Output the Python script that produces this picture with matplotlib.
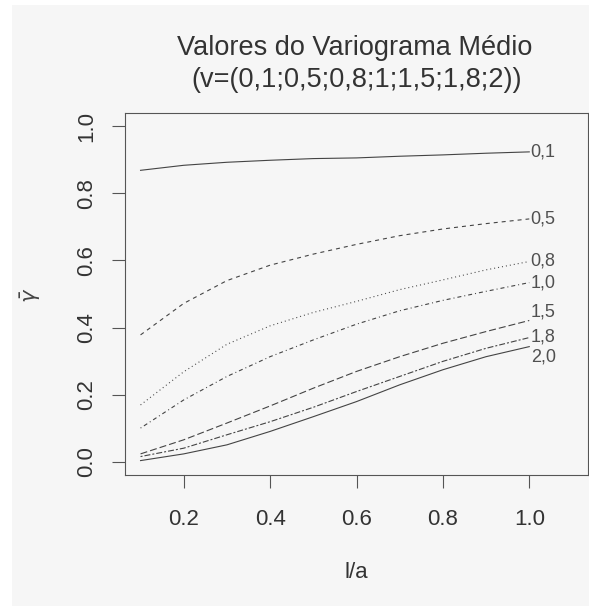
import matplotlib.pyplot as plt
from matplotlib.patches import Rectangle

plt.rcParams['font.family'] = ['Liberation Sans', 'DejaVu Sans']
plt.rcParams['mathtext.fontset'] = 'dejavusans'
plt.rcParams['lines.scale_dashes'] = False

# razao l/a
l_a = [0.1, 0.2, 0.3, 0.4, 0.5, 0.6, 0.7, 0.8, 0.9, 1.0]

# variograma medio para cada v
g_01 = [0.869, 0.884, 0.893, 0.899, 0.904, 0.906, 0.911, 0.915, 0.920, 0.924]
g_05 = [0.378, 0.472, 0.540, 0.586, 0.619, 0.648, 0.674, 0.694, 0.710, 0.724]
g_08 = [0.169, 0.268, 0.350, 0.405, 0.445, 0.478, 0.513, 0.542, 0.572, 0.597]
g_10 = [0.100, 0.184, 0.254, 0.313, 0.363, 0.410, 0.450, 0.481, 0.508, 0.534]
g_15 = [0.023, 0.065, 0.115, 0.166, 0.219, 0.269, 0.313, 0.353, 0.388, 0.421]
g_18 = [0.015, 0.040, 0.080, 0.119, 0.162, 0.209, 0.254, 0.299, 0.338, 0.370]
g_20 = [0.003, 0.023, 0.050, 0.090, 0.134, 0.179, 0.229, 0.274, 0.313, 0.343]

curvas = [g_01, g_05, g_08, g_10, g_15, g_18, g_20]
v_labels = ['0,1', '0,5', '0,8', '1,0', '1,5', '1,8', '2,0']

x_ticks = [0.2, 0.4, 0.6, 0.8, 1.0]
y_ticks = [0.0, 0.2, 0.4, 0.6, 0.8, 1.0]

# tipos de linha do R (lty 1..6, depois volta ao 1), em pontos
px = 0.72
ltys = ['-',
        (0, (4 * px, 4 * px)),
        (0, (1 * px, 3 * px)),
        (0, (1 * px, 3 * px, 4 * px, 3 * px)),
        (0, (7 * px, 3 * px)),
        (0, (2 * px, 2 * px, 6 * px, 2 * px)),
        '-']
# deslocamento vertical dos rotulos para nao sobrepor
nudge = [0, 0, 0, 0, 0.026, 0.003, -0.032]

W, H = 589, 606
fig = plt.figure(figsize=(W / 100, H / 100), dpi=100, facecolor='white')
fig.patches.append(Rectangle((12 / W, 0), 1, 1 - 5 / H, transform=fig.transFigure,
                             facecolor='#f6f6f6', edgecolor='none', zorder=-1))

ax = fig.add_axes([125 / W, 1 - 475 / H, (588 - 125) / W, (475 - 113) / H])
ax.set_facecolor('none')

cor = '#444444'
for g, ls, lab, dy in zip(curvas, ltys, v_labels, nudge):
    ax.plot(l_a, g, color=cor, lw=0.8, linestyle=ls)
    ax.annotate(lab, (l_a[-1], g[-1] + dy), xytext=(1, 0), textcoords='offset points',
                ha='left', va='center', fontsize=13, color='#505050')

ax.set_xlim(0.064, 1.136)
ax.set_ylim(-0.04, 1.04)
ax.set_xticks(x_ticks)
ax.set_xticklabels([f'{t:.1f}' for t in x_ticks])
ax.set_yticks(y_ticks)
ax.set_yticklabels([f'{t:.1f}' for t in y_ticks])

for s in ax.spines.values():
    s.set_color('#555555')
    s.set_linewidth(0.8)
ax.tick_params(direction='out', length=9.4, width=0.8, color='#555555',
               labelsize=16, labelcolor='#333333')
ax.tick_params(axis='x', pad=15)
ax.tick_params(axis='y', pad=10.5, labelrotation=90)
for t in ax.get_yticklabels():
    t.set_va('center')

fig.text(355 / W, 1 - 55 / H, 'Valores do Variograma Médio', ha='center', va='baseline',
         fontsize=19.5, color='#333333')
fig.text(357 / W, 1 - 87 / H, '(v=(0,1;0,5;0,8;1;1,5;1,8;2))', ha='center', va='baseline',
         fontsize=19.5, color='#333333')
fig.text(356 / W, 1 - 578 / H, 'l/a', ha='center', va='baseline', fontsize=16, color='#333333')
fig.text(31 / W, 1 - 295 / H, r'$\bar{\gamma}$', ha='center', va='center', rotation=90,
         fontsize=15, color='#444444')

fig.savefig('out.png', dpi=100)
